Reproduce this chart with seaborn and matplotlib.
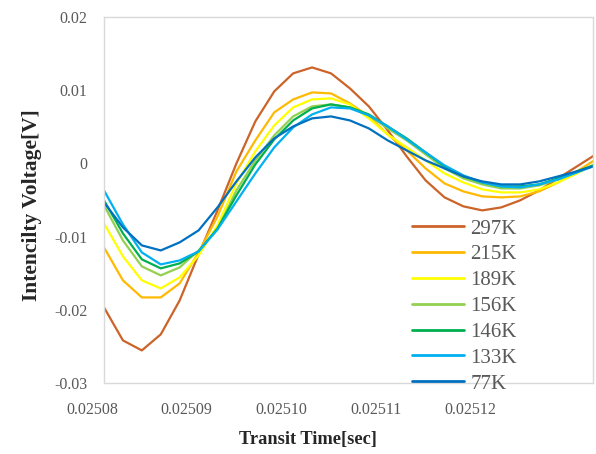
import numpy as np
import pandas as pd
import matplotlib
matplotlib.use("Agg")
import matplotlib.pyplot as plt
import matplotlib.transforms as mtransforms
import seaborn as sns

# Tiempo [s]
tiempo = [0.025080, 0.025082, 0.025084, 0.025086, 0.025088, 0.025090, 0.025092,
          0.025094, 0.025096, 0.025098, 0.025100, 0.025102, 0.025104, 0.025106,
          0.025108, 0.025110, 0.025112, 0.025114, 0.025116, 0.025118, 0.025120,
          0.025122, 0.025124, 0.025126, 0.025128, 0.025130, 0.025132]

# Voltaje [V] por temperatura
v_297 = [-0.01967, -0.02418, -0.02555, -0.02336, -0.01872, -0.01243, -0.00642,
         0.00000, 0.00574, 0.00984, 0.01230, 0.01311, 0.01230, 0.01025,
         0.00779, 0.00451, 0.00096, -0.00232, -0.00464, -0.00587, -0.00642,
         -0.00601, -0.00505, -0.00369, -0.00205, -0.00041, 0.00123]
v_215 = [-0.01148, -0.01598, -0.01831, -0.01831, -0.01639, -0.01216, -0.00724,
         -0.00109, 0.00314, 0.00697, 0.00874, 0.00970, 0.00956, 0.00820,
         0.00642, 0.00396, 0.00178, -0.00068, -0.00273, -0.00383, -0.00451,
         -0.00464, -0.00451, -0.00383, -0.00260, -0.00109, 0.00055]
v_189 = [-0.00820, -0.01270, -0.01598, -0.01708, -0.01557, -0.01257, -0.00847,
         -0.00273, 0.00164, 0.00519, 0.00765, 0.00874, 0.00888, 0.00806,
         0.00615, 0.00396, 0.00219, 0.00041, -0.00137, -0.00260, -0.00355,
         -0.00396, -0.00396, -0.00355, -0.00260, -0.00137, 0.00000]
v_156 = [-0.00574, -0.01052, -0.01407, -0.01530, -0.01421, -0.01189, -0.00902,
         -0.00369, 0.00041, 0.00383, 0.00642, 0.00779, 0.00806, 0.00765,
         0.00656, 0.00478, 0.00314, 0.00123, -0.00068, -0.00205, -0.00287,
         -0.00342, -0.00342, -0.00301, -0.00219, -0.00123, -0.00014]
v_146 = [-0.00505, -0.00956, -0.01311, -0.01434, -0.01366, -0.01202, -0.00888,
         -0.00437, -0.00014, 0.00328, 0.00587, 0.00751, 0.00806, 0.00765,
         0.00669, 0.00505, 0.00342, 0.00150, -0.00041, -0.00178, -0.00260,
         -0.00314, -0.00314, -0.00287, -0.00205, -0.00109, -0.00014]
v_133 = [-0.00369, -0.00833, -0.01216, -0.01380, -0.01325, -0.01202, -0.00902,
         -0.00519, -0.00137, 0.00219, 0.00492, 0.00669, 0.00765, 0.00751,
         0.00656, 0.00505, 0.00328, 0.00150, -0.00027, -0.00164, -0.00260,
         -0.00314, -0.00328, -0.00287, -0.00219, -0.00123, -0.00027]
v_77 = [-0.00533, -0.00874, -0.01120, -0.01189, -0.01079, -0.00915, -0.00601,
        -0.00246, 0.00082, 0.00342, 0.00505, 0.00615, 0.00642, 0.00587,
        0.00478, 0.00314, 0.00178, 0.00041, -0.00068, -0.00178, -0.00246,
        -0.00287, -0.00287, -0.00246, -0.00178, -0.00109, -0.00027]

etiquetas = ["297K", "215K", "189K", "156K", "146K", "133K", "77K"]
colores = ["#CC6328", "#FFB900", "#FFFF00", "#92D050", "#00B050", "#00B0F0", "#0070C0"]
series = [v_297, v_215, v_189, v_156, v_146, v_133, v_77]

filas = []
for et, vals in zip(etiquetas, series):
    for t, v in zip(tiempo, vals):
        filas.append({"Tiempo": t, "Voltaje": v, "Temp": et})
df = pd.DataFrame(filas)

sns.set_style("white")
plt.rcParams["font.family"] = ["Liberation Serif", "DejaVu Serif"]

fig = plt.figure(figsize=(5.96, 4.54), dpi=100)
ax = fig.add_axes([104/596, 1 - 383/454, (593-104)/596, (383-17)/454])

sns.lineplot(data=df, x="Tiempo", y="Voltaje", hue="Temp", hue_order=etiquetas,
             palette=colores, linewidth=1.6, ax=ax, legend=True)

ax.set_xlim(0.02508, 0.0251317)
ax.set_ylim(-0.03, 0.02)
ax.set_xticks([0.02508, 0.02509, 0.02510, 0.02511, 0.02512])
ax.set_xticklabels(["0.02508", "0.02509", "0.02510", "0.02511", "0.02512"])
ax.set_yticks([-0.03, -0.02, -0.01, 0, 0.01, 0.02])
ax.set_yticklabels(["-0.03", "-0.02", "-0.01", "0", "0.01", "0.02"])
ax.tick_params(length=0, labelsize=11.5, labelcolor="#595959")
ax.tick_params(axis="x", pad=14)
ax.tick_params(axis="y", pad=12)

# desplazar etiquetas del eje x como en la figura original
desp = mtransforms.ScaledTranslation(-12/100, 0, fig.dpi_scale_trans)
for lab in ax.get_xticklabels():
    lab.set_transform(lab.get_transform() + desp)

for s in ax.spines.values():
    s.set_color("#D9D9D9")
    s.set_linewidth(1.0)

ax.set_xlabel("Transit Time[sec]", fontsize=13.2, fontweight="bold", labelpad=9)
ax.set_ylabel("Intencilty Voltage[V]", fontsize=15.5, fontweight="bold", labelpad=9)
ax.xaxis.label.set_x((308 - 104) / 489)
ax.yaxis.label.set_y(0.486)

leg = ax.legend(loc="upper left", bbox_to_anchor=(412/596, 1 - 219/454),
                bbox_transform=fig.transFigure, frameon=False, fontsize=15,
                handlelength=2.5, handletextpad=0.3, labelspacing=0.3,
                borderpad=0, borderaxespad=0)
for txt in leg.get_texts():
    txt.set_color("#595959")
for ln in leg.get_lines():
    ln.set_linewidth(2)

fig.savefig("out.png", dpi=100)
